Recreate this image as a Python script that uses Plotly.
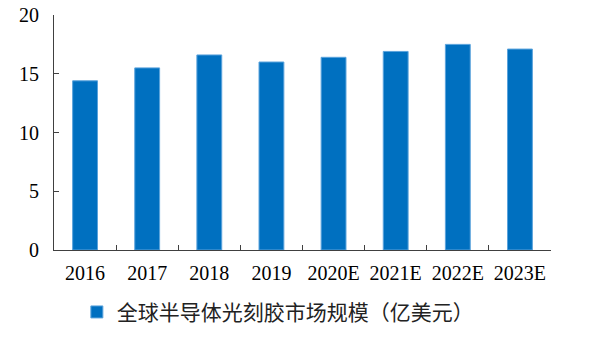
import plotly.graph_objects as go

categories = ["2016", "2017", "2018", "2019", "2020E", "2021E", "2022E", "2023E"]
market_size = [14.4, 15.5, 16.6, 16.0, 16.4, 16.9, 17.5, 17.1]
series_name = "全球半导体光刻胶市场规模（亿美元）"
y_ticks = [0, 5, 10, 15, 20]

fig = go.Figure()
fig.add_trace(go.Bar(
    x=categories, y=market_size, name=series_name,
    marker=dict(color="#0070C0", line=dict(color="#5BA3DC", width=1)),
    width=0.4, showlegend=True,
))

axis_color = "#404040"
fig.update_layout(
    width=600, height=339,
    margin=dict(l=54, r=49, t=15, b=89, autoexpand=False),
    paper_bgcolor="white", plot_bgcolor="white",
    font=dict(family="Liberation Serif, Times New Roman, serif", size=20, color="black"),
    bargap=0.6,
    showlegend=True,
    legend=dict(
        orientation="h", x=0.046, xanchor="left", y=-0.265, yanchor="middle",
        font=dict(family="Noto Sans CJK SC", size=21, color="#222222"),
        itemwidth=30, bgcolor="rgba(0,0,0,0)",
    ),
    xaxis=dict(
        type="category", showline=True, linecolor=axis_color, linewidth=1,
        ticks="inside", ticklen=5, tickcolor=axis_color, tickson="boundaries",
        showgrid=False, zeroline=False, ticklabelstandoff=5,
        tickfont=dict(size=20),
    ),
    yaxis=dict(
        range=[0, 20], tickvals=y_ticks, showline=True, linecolor=axis_color,
        linewidth=1, ticks="inside", ticklen=5, tickcolor=axis_color,
        showgrid=False, zeroline=False, ticklabelstandoff=10,
        tickfont=dict(size=20),
    ),
)

fig.write_html("out.html")
